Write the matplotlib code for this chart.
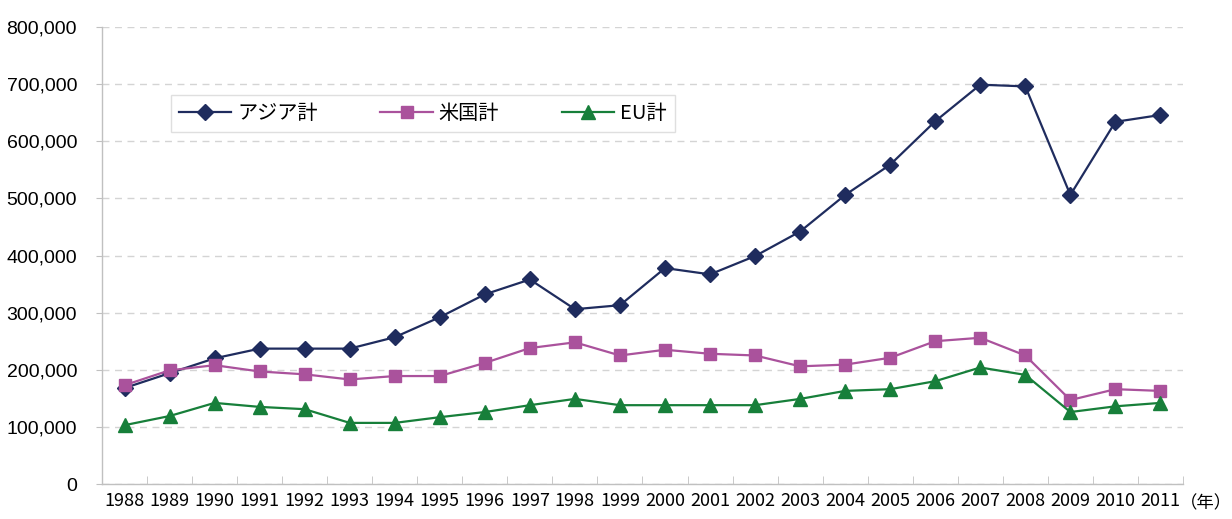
import numpy as np
import matplotlib
matplotlib.use("Agg")
import matplotlib.pyplot as plt

plt.rcParams['font.family'] = ['Noto Sans CJK JP', 'DejaVu Sans']

years = [str(y) for y in range(1988, 2012)]

# values
asia = [168000, 194000, 220000, 237000, 237000, 237000, 257000, 292000,
        332000, 358000, 306000, 313000, 378000, 367000, 399000, 442000,
        506000, 559000, 635000, 699000, 696000, 506000, 634000, 646000]
usa = [173000, 199000, 208000, 197000, 192000, 183000, 189000, 189000,
       212000, 238000, 248000, 225000, 235000, 228000, 225000, 206000,
       209000, 221000, 250000, 256000, 225000, 147000, 166000, 163000]
eu = [103000, 119000, 142000, 135000, 131000, 107000, 107000, 117000,
      126000, 138000, 149000, 138000, 138000, 138000, 138000, 149000,
      163000, 166000, 180000, 204000, 191000, 126000, 136000, 142000]

labels = ['アジア計', '米国計', 'EU計']
colors = ['#1f2c5e', '#aa529c', '#177f3a']

fig = plt.figure(figsize=(12.32, 5.19), dpi=100)
ax = fig.add_axes([0.0828, 0.0674, 0.8774, 0.8806])

x = np.arange(len(years))
ax.plot(x, asia, color=colors[0], lw=1.6, marker='D', ms=8.5, label=labels[0])
ax.plot(x, usa, color=colors[1], lw=1.6, marker='s', ms=8.5, label=labels[1])
ax.plot(x, eu, color=colors[2], lw=1.6, marker='^', ms=10, label=labels[2])

ax.set_xlim(-0.5, len(years) - 0.5)
ax.set_ylim(0, 800000)
ax.set_yticks(np.arange(0, 800001, 100000))
ax.set_yticklabels([f'{v:,}' for v in range(0, 800001, 100000)],
                   family='Liberation Sans', fontsize=14)
ax.set_xticks(x)
ax.set_xticklabels(years, fontsize=13)
ax.set_xticks(np.arange(-0.5, len(years)), minor=True)
ax.tick_params(axis='x', which='major', length=0, pad=6)
ax.tick_params(axis='x', which='minor', direction='in', length=6, color='#c0c0c0')
ax.tick_params(axis='y', length=4, color='#c0c0c0', pad=14)

ax.grid(axis='y', color='#d4d4d4', linestyle=(0, (5, 4)), lw=1)
ax.set_axisbelow(True)
for s in ['top', 'right']:
    ax.spines[s].set_visible(False)
for s in ['left', 'bottom']:
    ax.spines[s].set_color('#c0c0c0')
    ax.spines[s].set_linewidth(1)

leg = ax.legend(loc='upper left', bbox_to_anchor=(0.0638, 0.851), ncol=3,
                fontsize=14.5, frameon=True, fancybox=False, handlelength=2.6,
                columnspacing=3.1, borderpad=0.4, handletextpad=0.3,
                borderaxespad=0)
leg.get_frame().set_edgecolor('#d8d8d8')
leg.get_frame().set_linewidth(1)

fig.text(1.0, 0.03, '（年）', fontsize=12.5, ha='right', va='center')

fig.savefig('out.png', dpi=100)
